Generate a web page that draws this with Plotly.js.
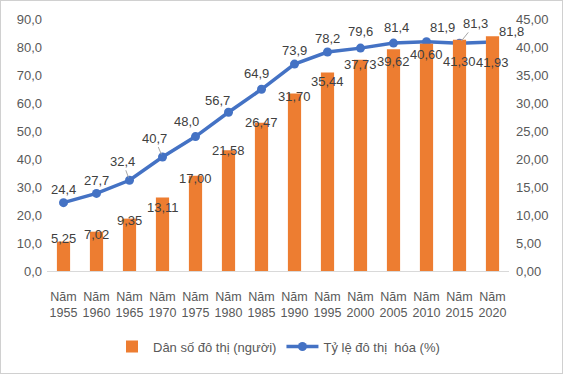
<!DOCTYPE html>
<html><head><meta charset="utf-8">
<script src="https://cdn.plot.ly/plotly-3.0.1.min.js"></script>
<style>html,body{margin:0;padding:0;background:#fff}#c{width:563px;height:374px;box-sizing:border-box;border:1px solid #d0d0d0;overflow:hidden}</style>
</head><body><div id="c"></div>
<script>
const years = ["1955","1960","1965","1970","1975","1980","1985","1990","1995","2000","2005","2010","2015","2020"];
const categories = years.map(y => "Năm<br>" + y);
const urbanPop = [5.25,7.02,9.35,13.11,17.00,21.58,26.47,31.70,35.44,37.73,39.62,40.60,41.30,41.93];
const urbanRate = [24.4,27.7,32.4,40.7,48.0,56.7,64.9,73.9,78.2,79.6,81.4,81.9,81.3,81.8];
const popName = "Dân số đô thị (người)";
const rateName = "Tỷ lệ đô thị  hóa (%)";

// label placement (style only, in pixels)
const popLabelDy  = [3,-3,-2,-10,-3,0,0,-3,-9,-5,-12,-11,-22,-26];
const rateLabelDx = [0,0,-7,-8,-9,-11,-5,0,0,0,3,16,16,19];
const rateLabelDy = [13,13,19,19,15,12,16,14,14,17,16,14,20,10];
const rateLeader  = [false,false,true,true,false,false,false,false,false,false,false,false,true,false];

const fmt = (v,d) => v.toFixed(d).replace('.', ',');
const fam = "Liberation Sans, Arial, sans-serif";
const font = {family: fam, size: 13, color: "#595959"};
const xFont = {family: fam, size: 12.5, color: "#595959"};
const lblFont = {family: fam, size: 13, color: "#404040"};

const annotations = [];
categories.forEach((c,i) => {
  annotations.push({x:c, y:urbanPop[i], xref:'x', yref:'y2', text:fmt(urbanPop[i],2), showarrow:false,
    yanchor:'middle', yshift:popLabelDy[i], font:lblFont});
  if (rateLeader[i]) {
    annotations.push({x:c, y:urbanRate[i], xref:'x', yref:'y', text:fmt(urbanRate[i],1), showarrow:true,
      arrowhead:0, arrowwidth:1, arrowcolor:'#a6a6a6', standoff:3, ax:rateLabelDx[i], ay:-rateLabelDy[i],
      font:lblFont});
  } else {
    annotations.push({x:c, y:urbanRate[i], xref:'x', yref:'y', text:fmt(urbanRate[i],1), showarrow:false,
      yanchor:'middle', xshift:rateLabelDx[i], yshift:rateLabelDy[i], font:lblFont});
  }
});

const data = [
  {type:'bar', x:categories, y:urbanPop, yaxis:'y2', name:popName, marker:{color:'#ED7D31'}, width:0.4},
  {type:'scatter', mode:'lines+markers', x:categories, y:urbanRate, yaxis:'y', name:rateName,
   line:{color:'#4472C4', width:3.5}, marker:{color:'#4472C4', size:9}}
];
const layout = {
  width:561, height:372,
  margin:{l:46, r:53, t:18, b:99},
  paper_bgcolor:'#fff', plot_bgcolor:'#fff',
  separators:',.',
  font: font,
  showlegend:true,
  legend:{orientation:'h', x:0.5, xanchor:'center', y:-0.3, yanchor:'middle', font:font, traceorder:'normal', itemwidth:32},
  xaxis:{type:'category', range:[-0.5, 13.5], autorange:false, automargin:false, tickangle:0, showline:true, linecolor:'#d9d9d9', linewidth:1, ticks:'outside', ticklen:14, tickcolor:'rgba(0,0,0,0)', tickfont:xFont, showgrid:false},
  yaxis:{range:[0,90], dtick:10, tickformat:'.1f', automargin:false, showgrid:false, zeroline:false, showline:false, tickfont:font, ticklabelstandoff:4},
  yaxis2:{range:[0,45], dtick:5, tickformat:'.2f', automargin:false, overlaying:'y', side:'right', showgrid:false, zeroline:false, showline:false, tickfont:font, ticklabelstandoff:6},
  annotations: annotations,
  bargap:0.6
};
Plotly.newPlot('c', data, layout, {displayModeBar:false, staticPlot:true});
</script></body></html>
